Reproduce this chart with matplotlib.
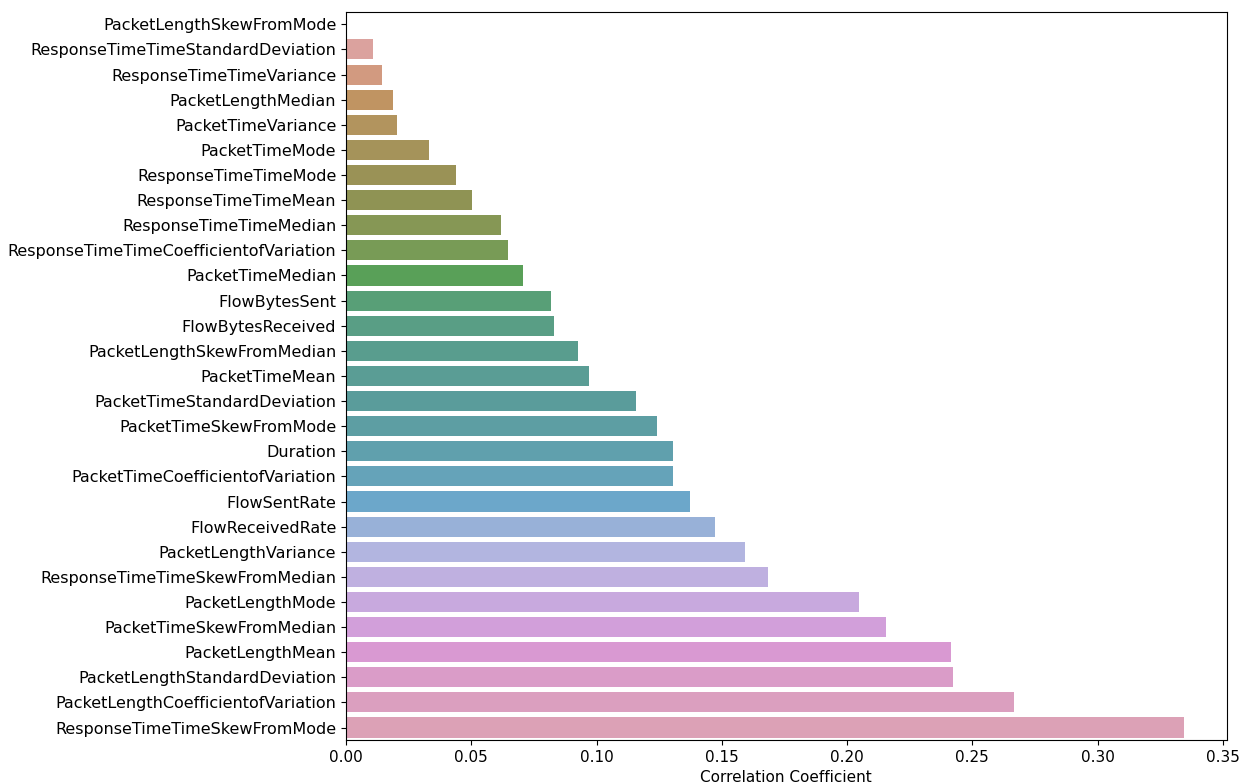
import numpy as np
import matplotlib
matplotlib.use("Agg")
import matplotlib.pyplot as plt
import seaborn as sns

# Feature correlation with the target
features = [
    'PacketLengthSkewFromMode', 'ResponseTimeTimeStandardDeviation',
    'ResponseTimeTimeVariance', 'PacketLengthMedian', 'PacketTimeVariance',
    'PacketTimeMode', 'ResponseTimeTimeMode', 'ResponseTimeTimeMean',
    'ResponseTimeTimeMedian', 'ResponseTimeTimeCoefficientofVariation',
    'PacketTimeMedian', 'FlowBytesSent', 'FlowBytesReceived',
    'PacketLengthSkewFromMedian', 'PacketTimeMean',
    'PacketTimeStandardDeviation', 'PacketTimeSkewFromMode', 'Duration',
    'PacketTimeCoefficientofVariation', 'FlowSentRate', 'FlowReceivedRate',
    'PacketLengthVariance', 'ResponseTimeTimeSkewFromMedian',
    'PacketLengthMode', 'PacketTimeSkewFromMedian', 'PacketLengthMean',
    'PacketLengthStandardDeviation', 'PacketLengthCoefficientofVariation',
    'ResponseTimeTimeSkewFromMode',
]
corr = [
    0.0004, 0.0106, 0.0145, 0.0188, 0.0202,
    0.0333, 0.0440, 0.0504, 0.0618, 0.0648,
    0.0705, 0.0818, 0.0831, 0.0925, 0.0969,
    0.1159, 0.1241, 0.1305, 0.1306, 0.1373,
    0.1474, 0.1594, 0.1683, 0.2048, 0.2156,
    0.2415, 0.2421, 0.2666, 0.3345,
]

# husl colours, a bit lighter and duller than the default to match the original
pal = sns.husl_palette(len(features), h=0.01, s=0.9, l=0.7)

fig = plt.figure(figsize=(12.42, 7.84), dpi=100)
ax = fig.add_axes([0.2786, 0.056, 0.709, 0.929])
sns.barplot(x=corr, y=features, hue=features, palette=pal,
            legend=False, saturation=0.52, ax=ax)
ax.set_xlabel("Correlation Coefficient", fontsize=11)
ax.tick_params(axis='y', labelsize=11.5)
ax.tick_params(axis='x', labelsize=11)
ax.set_xticks(np.arange(0, 0.351, 0.05))
ax.set_xlim(0, 0.3515)
fig.savefig("out.png", dpi=100)
